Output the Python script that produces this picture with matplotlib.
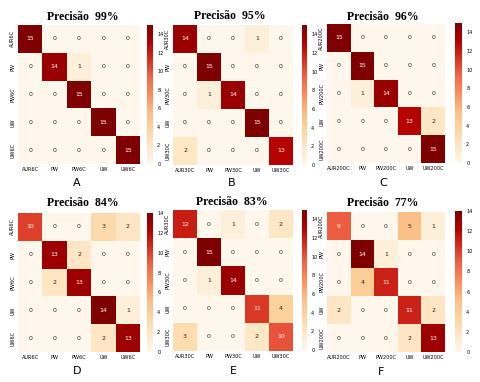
import numpy as np
import matplotlib
matplotlib.use("Agg")
import matplotlib.pyplot as plt
import seaborn as sns

# class labels
labels_6c = ["AUR6C", "PW", "PW6C", "UW", "UW6C"]
labels_30c = ["AUR30C", "PW", "PW30C", "UW", "UW30C"]
labels_200c = ["AUR200C", "PW", "PW200C", "UW", "UW200C"]

# confusion matrices
conf_a = [[15, 0, 0, 0, 0], [0, 14, 1, 0, 0], [0, 0, 15, 0, 0], [0, 0, 0, 15, 0], [0, 0, 0, 0, 15]]
conf_b = [[14, 0, 0, 1, 0], [0, 15, 0, 0, 0], [0, 1, 14, 0, 0], [0, 0, 0, 15, 0], [2, 0, 0, 0, 13]]
conf_c = [[15, 0, 0, 0, 0], [0, 15, 0, 0, 0], [0, 1, 14, 0, 0], [0, 0, 0, 13, 2], [0, 0, 0, 0, 15]]
conf_d = [[10, 0, 0, 3, 2], [0, 13, 2, 0, 0], [0, 2, 13, 0, 0], [0, 0, 0, 14, 1], [0, 0, 0, 2, 13]]
conf_e = [[12, 0, 1, 0, 2], [0, 15, 0, 0, 0], [0, 1, 14, 0, 0], [0, 0, 0, 11, 4], [3, 0, 0, 2, 10]]
conf_f = [[9, 0, 0, 5, 1], [0, 14, 1, 0, 0], [0, 4, 11, 0, 0], [2, 0, 0, 11, 2], [0, 0, 0, 2, 13]]

precision = [99, 95, 96, 84, 83, 77]
letters = ["A", "B", "C", "D", "E", "F"]

W, H = 481, 382
fig = plt.figure(figsize=(W / 100, H / 100), dpi=100)

def box(x0, y0, x1, y1):
    # pixel box (top-left origin) -> figure fraction
    return [x0 / W, 1 - y1 / H, (x1 - x0) / W, (y1 - y0) / H]

# heatmap box, colorbar box, title pos, letter pos (pixels)
panels = [
    (conf_a, labels_6c, (18, 25, 140, 164), (147, 25, 153, 164), (83, 17), (77, 183)),
    (conf_b, labels_30c, (173, 25, 293, 165), (302, 25, 307, 165), (230, 16), (232, 183)),
    (conf_c, labels_200c, (327, 24, 445, 163), (455, 23, 462, 163), (383, 17), (383, 183)),
    (conf_d, labels_6c, (18, 213, 140, 352), (147, 213, 153, 352), (83, 203), (77, 371)),
    (conf_e, labels_30c, (173, 210, 293, 351), (302, 210, 307, 350), (232, 202), (233, 371)),
    (conf_f, labels_200c, (327, 212, 445, 352), (455, 211, 462, 352), (383, 203), (381, 372)),
]

for i, (conf, labels, hbox, cbox, tpos, lpos) in enumerate(panels):
    ax = fig.add_axes(box(*hbox))
    cax = fig.add_axes(box(*cbox))
    sns.heatmap(np.array(conf), ax=ax, cbar_ax=cax, cmap="OrRd", annot=True,
                fmt="d", annot_kws={"size": 4.5},
                xticklabels=labels, yticklabels=labels)
    ax.tick_params(length=0, labelsize=3.6, pad=2)
    ax.set_yticklabels(labels, rotation=90, va="center")
    ax.set_xticklabels(labels, rotation=0)
    cax.tick_params(length=0, labelsize=3.6, pad=3)
    cax.set_yticks(range(0, 16, 2))
    fig.text(tpos[0] / W, 1 - tpos[1] / H, "Precisão  %d%%" % precision[i],
             ha="center", va="center", fontsize=8.5, fontweight="bold",
             family="Liberation Serif")
    fig.text(lpos[0] / W, 1 - lpos[1] / H, letters[i],
             ha="center", va="center", fontsize=8)

fig.savefig("out.png", dpi=100)
